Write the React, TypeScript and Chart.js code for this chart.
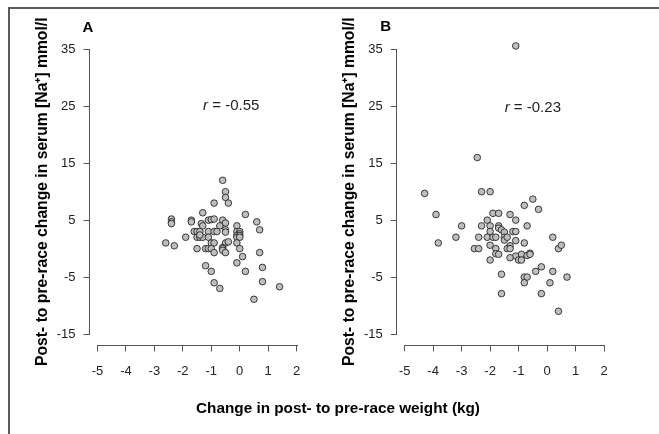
import React, { useEffect, useRef } from "react";
import { Chart, registerables } from "chart.js";

Chart.register(...registerables);

// ---- data ----
const xTicks = [-5, -4, -3, -2, -1, 0, 1, 2];
const yTicks = [-15, -5, 5, 15, 25, 35];
const xLimits = [-5.28, 2.28];
const yLimits = [-17, 37];

const panelAX = [
  -0.6, -0.5, -0.5, -0.4, -0.9, 0.2, -1.3, -2.4, -2.4, -2.4, -1.7, -1.7, -1.1, -1.0, -0.9, -0.6, -0.5,
  -1.35, -1.3, -0.7, -0.1, 0.6, 0.7, -1.6, -1.5, -1.4, -1.1, -0.9, -0.8, -0.5, -0.5, -0.1, 0.0, 0.0,
  -1.9, -1.5, -1.4, -1.3, -1.1, -0.1, -0.1, 0.0, 0.0, -1.4, -2.6, -2.3, -1.0, -0.9, -0.5, -0.4, -0.1,
  -1.5, -1.2, -1.1, -1.0, -0.9, -0.6, -0.6, -0.6, -0.5, 0.0, 0.7, 0.1, -0.1, -1.2, -1.0, 0.2, 0.8,
  -0.9, -0.7, 0.8, 1.4, 0.5,
];
const panelAY = [
  12, 10, 9, 8, 8, 6, 6.3, 5.2, 4.7, 4.4, 5, 4.7, 5, 5.1, 5.2, 5, 4.5,
  4.4, 4, 4, 4, 4.7, 3.3, 3, 3, 3, 3, 3, 3, 3.3, 2.9, 3, 3, 2.6,
  2, 2, 2, 2, 2, 2.3, 2, 2.3, 2, 2.4, 1, 0.5, 1, 1, 1, 1.2, 1,
  0, 0, 0, 0, -0.7, 0.2, 0, -0.3, -0.7, 0, -0.7, -1.4, -2.5, -3, -4, -4, -3.3,
  -6, -7, -5.8, -6.7, -8.9,
];

const panelBX = [
  -1.1, -2.45, -4.3, -2.3, -2.0, -0.5, -0.3, -0.8, -3.9, -1.9, -1.7, -1.3, -2.1, -1.1, -3.0, -2.3,
  -2.0, -1.7, -1.7, -0.7, -2.0, -1.6, -1.5, -1.2, -1.1, -3.2, -2.4, -2.1, -1.9, -1.8, -1.5, -1.5,
  -1.4, -1.1, -0.8, 0.2, -3.82, -2.0, -1.3, -2.55, -2.4, -1.8, -1.4, -1.3, 0.4, 0.5, -1.8, -1.7,
  -1.1, -1.3, -0.9, -0.7, -0.6, -0.6, -2.0, -1.0, -0.9, -0.2, -0.4, 0.2, -1.6, -0.8, -0.7, 0.7,
  -0.8, 0.1, -1.6, -0.2, 0.4,
];
const panelBY = [
  35.6, 16, 9.7, 10, 10, 8.7, 6.9, 7.6, 6, 6.2, 6.2, 6, 5, 5, 4, 4,
  4, 4, 3.6, 4, 3, 3.3, 2.9, 3, 3, 2, 2, 2, 2, 2, 2, 1.5,
  2, 1.4, 1, 2, 1, 0.6, 0.5, 0, 0, 0, 0, 0, 0, 0.6, -0.9, -1,
  -1.3, -1.6, -1, -1.2, -0.8, -1, -2, -2, -2, -3.2, -4, -4, -4.5, -5, -5, -5,
  -6, -6, -7.9, -7.9, -11,
];

const panelLetters = ["A", "B"];
const rValues = ["-0.55", "-0.23"];
const rAnchorX = [-0.3, -0.5];
const rAnchorY = [25.1, 24.8];

const yTitleText = "Post- to pre-race change in serum [Na\u207A] mmol/l";
const xTitleText = "Change in post- to pre-race weight (kg)";

// ---- layout / style ----
const FONT = "'Liberation Sans', Arial, Helvetica, sans-serif";
const AXIS_COLOR = "#555";
const TEXT_COLOR = "#222";

type PanelCfg = {
  left: number;
  width: number;
  yAxisWidth: number;
  padRight: number;
  titleOffset: number;
  letterDX: number;
  letterY: number;
};

const panelCfgs: PanelCfg[] = [
  { left: 0, width: 330, yAxisWidth: 89.5, padRight: 25.4, titleOffset: 33.6, letterDX: -1.5, letterY: 27.5 },
  { left: 330, width: 329, yAxisWidth: 66.7, padRight: 47, titleOffset: 10.6, letterDX: -11, letterY: 27 },
];

const HEIGHT = 434;
const PAD_TOP = 38;
const X_AXIS_HEIGHT = 88.6;

function Panel({ idx, xs, ys }: { idx: number; xs: number[]; ys: number[] }) {
  const ref = useRef<HTMLCanvasElement | null>(null);
  const cfg = panelCfgs[idx];

  useEffect(() => {
    if (!ref.current) return;
    const overlay = {
      id: "rAxes" + idx,
      afterDraw(chart: any) {
        const ctx = chart.ctx;
        const area = chart.chartArea;
        const xs_ = chart.scales.x;
        const ys_ = chart.scales.y;
        ctx.save();
        ctx.fillStyle = AXIS_COLOR;
        // x axis line (only between first and last tick)
        const xa = Math.round(xs_.getPixelForValue(xTicks[0]));
        const xb = Math.round(xs_.getPixelForValue(xTicks[xTicks.length - 1]));
        ctx.fillRect(xa, Math.round(area.bottom), xb - xa + 1, 1);
        // y axis line (only between first and last tick)
        const ya = Math.round(ys_.getPixelForValue(yTicks[yTicks.length - 1]));
        const yb = Math.round(ys_.getPixelForValue(yTicks[0]));
        ctx.fillRect(Math.round(area.left) - 1, ya, 1, yb - ya + 1);
        // panel letter
        ctx.fillStyle = "#000";
        ctx.font = `bold 15px ${FONT}`;
        ctx.textAlign = "center";
        ctx.textBaseline = "middle";
        ctx.fillText(panelLetters[idx], area.left + cfg.letterDX, cfg.letterY);
        // r annotation
        const cx = xs_.getPixelForValue(rAnchorX[idx]);
        const cy = ys_.getPixelForValue(rAnchorY[idx]);
        ctx.font = `italic 15px ${FONT}`;
        const rW = ctx.measureText("r").width;
        ctx.font = `15px ${FONT}`;
        const rest = " = " + rValues[idx];
        const restW = ctx.measureText(rest).width;
        const start = cx - (rW + restW) / 2;
        ctx.textAlign = "left";
        ctx.fillStyle = TEXT_COLOR;
        ctx.font = `italic 15px ${FONT}`;
        ctx.fillText("r", start, cy);
        ctx.font = `15px ${FONT}`;
        ctx.fillText(rest, start + rW, cy);
        ctx.restore();
      },
    };

    const chart = new Chart(ref.current, {
      type: "scatter",
      data: {
        datasets: [
          {
            data: xs.map((x, i) => ({ x, y: ys[i] })),
            backgroundColor: "#bebebe",
            borderColor: "rgba(30,30,30,0.85)",
            borderWidth: 1,
            pointRadius: 3.3,
            pointHoverRadius: 3.3,
          },
        ],
      },
      options: {
        animation: false,
        responsive: false,
        devicePixelRatio: 1,
        events: [],
        layout: { padding: { top: PAD_TOP, right: cfg.padRight, bottom: 0, left: 0 } },
        plugins: { legend: { display: false }, tooltip: { enabled: false } },
        scales: {
          x: {
            type: "linear",
            min: xLimits[0],
            max: xLimits[1],
            afterBuildTicks: (s: any) => {
              s.ticks = xTicks.map((v) => ({ value: v }));
            },
            afterFit: (s: any) => {
              s.height = X_AXIS_HEIGHT;
            },
            grid: { display: true, drawOnChartArea: false, drawTicks: true, tickLength: 6, color: AXIS_COLOR, lineWidth: 1 },
            border: { display: false },
            ticks: {
              padding: 12,
              color: TEXT_COLOR,
              font: { family: FONT, size: 13 },
              maxRotation: 0,
              autoSkip: false,
              callback: (v: any) => String(v),
            },
          },
          y: {
            type: "linear",
            min: yLimits[0],
            max: yLimits[1],
            afterBuildTicks: (s: any) => {
              s.ticks = yTicks.map((v) => ({ value: v }));
            },
            afterFit: (s: any) => {
              s.width = cfg.yAxisWidth;
            },
            grid: { display: true, drawOnChartArea: false, drawTicks: true, tickLength: 6, color: AXIS_COLOR, lineWidth: 1 },
            border: { display: false },
            ticks: {
              padding: 8,
              color: TEXT_COLOR,
              font: { family: FONT, size: 13 },
              autoSkip: false,
              callback: (v: any) => String(v),
            },
            title: {
              display: true,
              text: yTitleText,
              color: "#000",
              font: { family: FONT, size: 15.7, weight: "bold" },
              padding: { top: cfg.titleOffset, bottom: 0 },
            },
          },
        },
      },
      plugins: [overlay],
    } as any);
    return () => chart.destroy();
  }, [idx, xs, ys]);

  return (
    <canvas
      ref={ref}
      width={cfg.width}
      height={HEIGHT}
      style={{ position: "absolute", left: cfg.left, top: 0, width: cfg.width, height: HEIGHT }}
    />
  );
}

export default function App() {
  return (
    <div
      style={{
        position: "fixed",
        left: 0,
        top: 0,
        width: 659,
        height: HEIGHT,
        background: "#fff",
        overflow: "hidden",
      }}
    >
      <Panel idx={0} xs={panelAX} ys={panelAY} />
      <Panel idx={1} xs={panelBX} ys={panelBY} />
      <div
        style={{
          position: "absolute",
          left: 0,
          width: 676,
          top: 398,
          textAlign: "center",
          fontFamily: FONT,
          fontWeight: "bold",
          fontSize: 15.3,
          lineHeight: "20px",
          color: "#000",
        }}
      >
        {xTitleText}
      </div>
      <div
        style={{
          position: "absolute",
          left: 8,
          top: 7,
          right: 0,
          bottom: 0,
          borderTop: "2px solid #5a5a5a",
          borderLeft: "2px solid #5a5a5a",
          pointerEvents: "none",
        }}
      />
    </div>
  );
}
